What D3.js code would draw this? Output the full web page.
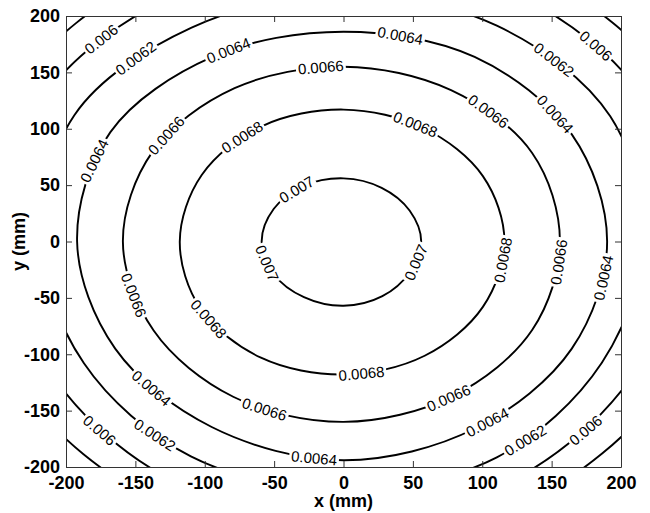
<!DOCTYPE html>
<html lang="en">
<head>
<meta charset="utf-8">
<title>Contour plot</title>
<script src="https://cdn.jsdelivr.net/npm/d3@7"></script>
<style>
  body { margin: 0; background: #fff; }
  svg { display: block; }
  .axis text { font-family: "Liberation Sans", Arial, sans-serif; font-size: 18px; font-weight: bold; fill: #000; }
  .axis path, .axis line { stroke: #333; }
  .clabel { font-family: "Liberation Sans", Arial, sans-serif; font-size: 15px; fill: #000; }
  .title { font-family: "Liberation Sans", Arial, sans-serif; font-size: 18px; font-weight: bold; }
</style>
</head>
<body>
<script>

// size of the page and the plot box
var w = 650, h = 513;
var margin = {left: 66, right: 29, top: 16, bottom: 46};

// contour levels, with the radius (mm) of each contour read at these angles (deg)
var angles = [0, 30, 60, 90, 120, 150, 180, 210, 240, 270, 300, 330];
var levels = [0.007, 0.0068, 0.0066, 0.0064, 0.0062, 0.006, 0.0058];
var r0070 = [56, 55, 55, 56, 57, 58, 59, 58, 57, 57, 56, 55];
var r0068 = [116, 116, 116, 117, 118, 118, 118, 119, 119, 118, 117, 116];
var r0066 = [156, 157, 155, 155, 157, 159, 159, 158, 159, 160, 158, 157];
var r0064 = [190, 190, 189, 186, 189, 194, 192, 190, 190, 194, 191, 190];
var r0062 = [216, 222, 221, 220, 219, 224, 218, 216, 220, 221, 221, 215];
var r0060 = [246, 251, 252, 251, 250, 251, 246, 241, 245, 244, 244, 240];
var r0058 = [270, 274, 275, 274, 274, 273, 270, 266, 267, 266, 266, 265];
var radii = [r0070, r0068, r0066, r0064, r0062, r0060, r0058];

// inline labels: level and where it sits (mm)
var labelLevel = [0.006, 0.0062, 0.0064, 0.0064, 0.0062, 0.006, 0.0066, 0.0068, 0.0066, 0.0064,
                  0.007, 0.007, 0.007, 0.0068, 0.0066, 0.0064, 0.0066, 0.0068, 0.0068, 0.0066,
                  0.0064, 0.0066, 0.0064, 0.0064, 0.0062, 0.006, 0.0062, 0.006, 0.0066, 0.0068, 0.0064];
var labelX = [-175.5, -147.4, -81.8, 40.7, 153.9, 182.7, -16.2, -73.2, -130.8, -181.3,
              -32.8, -54.4, 51.5, 114.2, 154.6, 188.5, -151, -98.4, 13.3, 75.3,
              -137.3, -56.6, -21.3, 103.4, 130.8, 174, -135.9, -175.5, 106.3, 51.5, 153.9];
var labelY = [180.5, 160.1, 167.2, 181.4, 163.6, 174.3, 153, 92.7, 96.2, 72.3,
              44.8, -19, -18.2, -16.4, -18.2, -32.4, -47.5, -69.6, -120.2, -137.9,
              -129, -147.7, -192.9, -160, -176, -167, -171.6, -167.2, 117.5, 103.3, 114];

var xTicks = [-200, -150, -100, -50, 0, 50, 100, 150, 200];
var yTicks = [-200, -150, -100, -50, 0, 50, 100, 150, 200];

var xScale = d3.scaleLinear().domain([-200, 200]).range([margin.left, w - margin.right]);
var yScale = d3.scaleLinear().domain([-200, 200]).range([h - margin.bottom, margin.top]);

var svg = d3.select("body").append("svg").attr("width", w).attr("height", h);

svg.append("clipPath").attr("id", "plot")
  .append("rect")
  .attr("x", margin.left).attr("y", margin.top)
  .attr("width", w - margin.left - margin.right)
  .attr("height", h - margin.top - margin.bottom);

// turn the radii into points
function ring(r) {
  return angles.map(function(a, i) {
    var t = a * Math.PI / 180;
    return [r[i] * Math.cos(t), r[i] * Math.sin(t)];
  });
}

var line = d3.line()
  .x(function(d) { return xScale(d[0]); })
  .y(function(d) { return yScale(d[1]); })
  .curve(d3.curveCatmullRomClosed);

var plot = svg.append("g").attr("clip-path", "url(#plot)");

plot.selectAll("path.contour")
  .data(radii)
  .enter()
  .append("path")
  .attr("class", "contour")
  .attr("d", function(r) { return line(ring(r)); })
  .attr("fill", "none")
  .attr("stroke", "#000")
  .attr("stroke-width", 1.9);

// radius of a level at a given angle, from the readings
function radiusAt(r, deg) {
  deg = (deg % 360 + 360) % 360;
  var i = Math.floor(deg / 30), f = (deg - i * 30) / 30;
  return r[i] * (1 - f) + r[(i + 1) % r.length] * f;
}

var kx = xScale(1) - xScale(0), ky = yScale(0) - yScale(1);

var labels = labelLevel.map(function(lv, i) {
  var r = radii[levels.indexOf(lv)];
  var t = Math.atan2(labelY[i], labelX[i]);
  var rr = radiusAt(r, t * 180 / Math.PI);
  var px = xScale(rr * Math.cos(t)), py = yScale(rr * Math.sin(t));
  var ang = Math.atan2(-Math.cos(t) * ky, -Math.sin(t) * kx) * 180 / Math.PI;
  if (ang > 90) ang -= 180;
  if (ang < -90) ang += 180;
  return {text: String(lv), x: px, y: py, angle: ang};
});

var lab = plot.selectAll("g.lab")
  .data(labels)
  .enter()
  .append("g")
  .attr("class", "lab")
  .attr("transform", function(d) { return "translate(" + d.x + "," + d.y + ") rotate(" + d.angle + ")"; });

lab.append("rect").attr("fill", "#fff");

lab.append("text")
  .attr("class", "clabel")
  .attr("text-anchor", "middle")
  .attr("dy", "0.36em")
  .text(function(d) { return d.text; });

lab.each(function() {
  var g = d3.select(this);
  var bb = g.select("text").node().getBBox();
  g.select("rect")
    .attr("x", -bb.width / 2 - 2).attr("y", -6)
    .attr("width", bb.width + 4).attr("height", 12);
});

// plain hyphen for negative ticks
var fmt = function(d) { return String(d); };

// axes, ticks pointing inwards on all four sides
svg.append("g")
  .attr("class", "axis")
  .attr("transform", "translate(0," + (h - margin.bottom) + ")")
  .call(d3.axisBottom(xScale).tickValues(xTicks).tickFormat(fmt).tickSize(-6).tickSizeOuter(0).tickPadding(9));

svg.append("g")
  .attr("class", "axis")
  .attr("transform", "translate(" + margin.left + ",0)")
  .call(d3.axisLeft(yScale).tickValues(yTicks).tickFormat(fmt).tickSize(-6).tickSizeOuter(0).tickPadding(6));

svg.append("g")
  .attr("class", "axis")
  .attr("transform", "translate(0," + margin.top + ")")
  .call(d3.axisTop(xScale).tickValues(xTicks).tickSize(-6).tickSizeOuter(0).tickFormat(""));

svg.append("g")
  .attr("class", "axis")
  .attr("transform", "translate(" + (w - margin.right) + ",0)")
  .call(d3.axisRight(yScale).tickValues(yTicks).tickSize(-6).tickSizeOuter(0).tickFormat(""));

svg.append("text")
  .attr("class", "title")
  .attr("x", (margin.left + w - margin.right) / 2)
  .attr("y", 507)
  .attr("text-anchor", "middle")
  .text("x (mm)");

svg.append("text")
  .attr("class", "title")
  .attr("transform", "translate(25," + (margin.top + (h - margin.top - margin.bottom) / 2) + ") rotate(-90)")
  .attr("text-anchor", "middle")
  .text("y (mm)");

</script>
</body>
</html>
